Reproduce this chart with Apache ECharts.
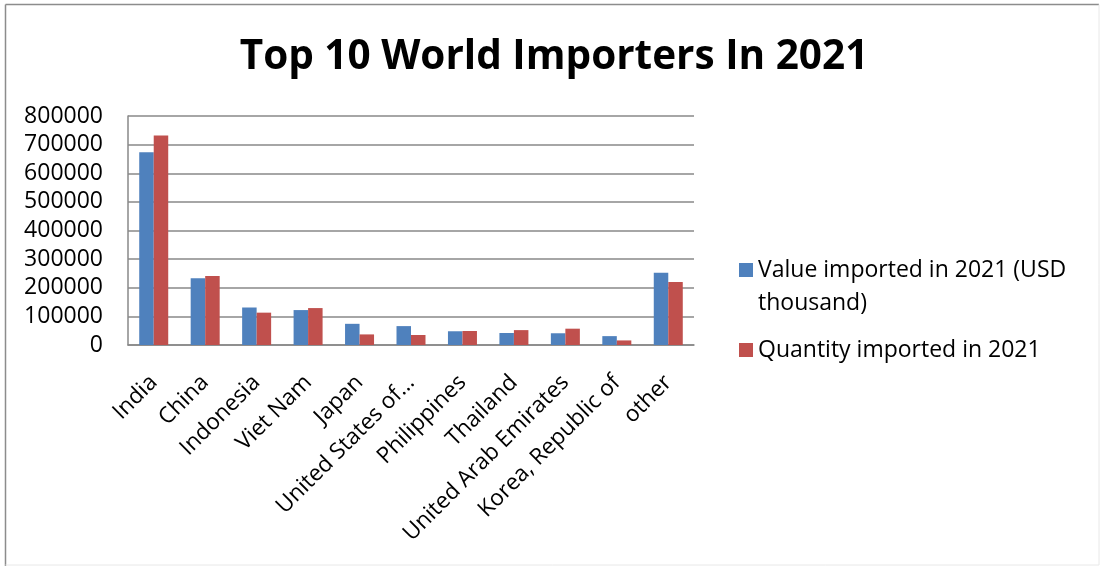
<!DOCTYPE html>
<html>
<head>
<meta charset="utf-8">
<script src="https://cdn.jsdelivr.net/npm/echarts@6/dist/echarts.min.js"></script>
<style>html,body{margin:0;padding:0;background:#fff}#c{width:1100px;height:566px}</style>
</head>
<body>
<div id="c"></div>
<script>
var titleText = 'Top 10 World Importers In 2021';
var categories = ['India','China','Indonesia','Viet Nam','Japan','United States of...','Philippines','Thailand','United Arab Emirates','Korea, Republic of','other'];
var valueName = 'Value imported in 2021 (USD thousand)';
var valueLegendText = '\u00a0\nValue imported in 2021 (USD\nthousand)';
var quantityName = 'Quantity imported in 2021';
var valueImported = [673000, 233000, 131000, 122000, 74000, 66000, 48000, 42000, 41000, 31000, 252000];
var quantityImported = [732000, 241000, 113000, 129000, 37000, 35000, 49000, 52000, 57000, 16000, 220000];
var yTicks = { min: 0, max: 800000, interval: 100000 };

var FONT = 'Open Sans';
var chart = echarts.init(document.getElementById('c'), null, {renderer: 'canvas'});
chart.setOption({
  backgroundColor: '#fff',
  animation: false,
  textStyle: { fontFamily: FONT },
  title: {
    text: titleText,
    left: 549, top: 32, textAlign: 'center',
    textStyle: { fontFamily: FONT, fontWeight: 'bold', fontSize: 40.5, color: '#000' }
  },
  graphic: [
    { type: 'line', shape: {x1: 5.5, y1: 4.5, x2: 1099, y2: 4.5}, style: {stroke: '#8c8c8c', lineWidth: 1.5} },
    { type: 'line', shape: {x1: 5.5, y1: 4.5, x2: 5.5, y2: 566}, style: {stroke: '#8c8c8c', lineWidth: 1.5} },
    { type: 'line', shape: {x1: 1099, y1: 4.5, x2: 1099, y2: 565}, style: {stroke: '#e8e8e8', lineWidth: 1} },
    { type: 'line', shape: {x1: 5.5, y1: 565, x2: 1099, y2: 565}, style: {stroke: '#e8e8e8', lineWidth: 1} }
  ],
  legend: [
    {
      data: [valueName],
      orient: 'vertical',
      left: 739, top: 220.5, padding: 0,
      itemWidth: 14, itemHeight: 14,
      icon: 'rect',
      formatter: function () { return valueLegendText; },
      textStyle: { fontFamily: FONT, fontSize: 23, color: '#000', lineHeight: 33 }
    },
    {
      data: [quantityName],
      orient: 'vertical',
      left: 739, top: 333.5, padding: 0,
      itemWidth: 14, itemHeight: 14,
      icon: 'rect',
      textStyle: { fontFamily: FONT, fontSize: 23, color: '#000', lineHeight: 33 }
    }
  ],
  grid: { left: 128, right: 406, top: 116, bottom: 221, containLabel: false },
  xAxis: {
    type: 'category',
    data: categories,
    axisLine: { show: true, lineStyle: { color: '#888', width: 1.5 } },
    axisTick: { show: false },
    axisLabel: { rotate: 45, interval: 0, margin: 34, fontFamily: FONT, fontSize: 22.5, color: '#000' }
  },
  yAxis: {
    type: 'value',
    min: yTicks.min, max: yTicks.max, interval: yTicks.interval,
    axisLine: { show: true, lineStyle: { color: '#888', width: 1.5 } },
    axisTick: { show: false },
    splitLine: { show: true, lineStyle: { color: '#888', width: 1.5 } },
    axisLabel: { margin: 25, fontFamily: FONT, fontSize: 23, color: '#000', formatter: function (v) { return String(v); } }
  },
  series: [
    { name: valueName, type: 'bar', data: valueImported, barWidth: 14.5, barGap: '0%', itemStyle: { color: '#4F81BD' } },
    { name: quantityName, type: 'bar', data: quantityImported, barWidth: 14.5, barGap: '0%', itemStyle: { color: '#C0504D' } }
  ]
});
</script>
</body>
</html>
